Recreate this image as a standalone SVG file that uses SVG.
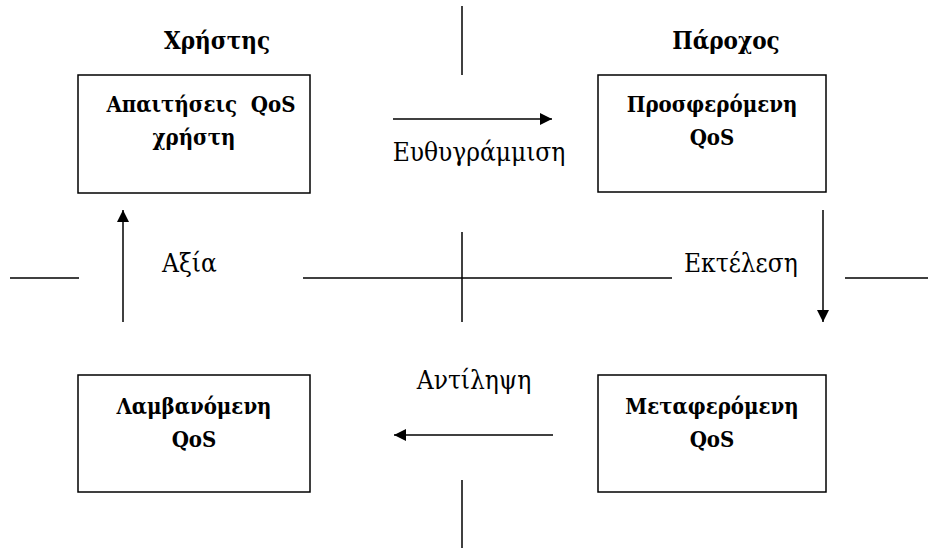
<svg xmlns="http://www.w3.org/2000/svg" width="928" height="550" viewBox="0 0 928 550">
  <style>
    .box { fill: #ffffff; stroke: #000000; stroke-width: 1.5; }
    .line { stroke: #000000; stroke-width: 1.5; fill: none; }
    .serif { font-family: "DejaVu Serif Condensed", "DejaVu Serif", "Liberation Serif", serif; fill: #000; }
    .title { font-weight: bold; font-size: 24px; text-anchor: middle; }
    .head { font-weight: bold; font-size: 22px; text-anchor: middle; }
    .lbl { font-size: 26px; }
  </style>
  <defs>
    <marker id="arrow" viewBox="0 0 10 10" refX="10" refY="5" markerWidth="12" markerHeight="12" markerUnits="userSpaceOnUse" orient="auto">
      <path d="M0,0 L10,5 L0,10 z" fill="#000"/>
    </marker>
  </defs>
  <rect width="928" height="550" fill="#ffffff"/>

  <!-- column headings -->
  <text class="serif title" x="217" y="49">Χρήστης</text>
  <text class="serif title" x="726" y="49">Πάροχος</text>

  <!-- quadrant dividers -->
  <g id="dividers">
    <line class="line" x1="462" y1="6" x2="462" y2="75"/>
    <line class="line" x1="462" y1="232" x2="462" y2="322"/>
    <line class="line" x1="462" y1="480" x2="462" y2="548"/>
    <line class="line" x1="10" y1="278" x2="79" y2="278"/>
    <line class="line" x1="303" y1="278" x2="672" y2="278"/>
    <line class="line" x1="845" y1="278" x2="928" y2="278"/>
  </g>

  <g id="node-required">
    <rect class="box" x="78" y="75" width="232" height="118"/>
    <text class="serif head" x="201" y="112">Απαιτήσεις&#160; QoS</text>
    <text class="serif head" x="194" y="145">χρήστη</text>
  </g>
  <g id="node-offered">
    <rect class="box" x="598" y="75" width="228" height="117"/>
    <text class="serif head" x="712" y="112">Προσφερόμενη</text>
    <text class="serif head" x="712" y="145">QoS</text>
  </g>
  <g id="node-perceived">
    <rect class="box" x="78" y="375" width="232" height="117"/>
    <text class="serif head" x="194" y="414">Λαμβανόμενη</text>
    <text class="serif head" x="194" y="447">QoS</text>
  </g>
  <g id="node-delivered">
    <rect class="box" x="598" y="375" width="228" height="117"/>
    <text class="serif head" x="712" y="414">Μεταφερόμενη</text>
    <text class="serif head" x="712" y="447">QoS</text>
  </g>

  <g id="connectors">
    <line class="line" x1="393" y1="119" x2="552" y2="119" marker-end="url(#arrow)"/>
    <line class="line" x1="823" y1="210" x2="823" y2="322" marker-end="url(#arrow)"/>
    <line class="line" x1="553" y1="435" x2="394" y2="435" marker-end="url(#arrow)"/>
    <line class="line" x1="123" y1="322" x2="123" y2="210" marker-end="url(#arrow)"/>
    <text class="serif lbl" x="479" y="161" text-anchor="middle">Ευθυγράμμιση</text>
    <text class="serif lbl" x="684" y="272">Εκτέλεση</text>
    <text class="serif lbl" x="474" y="389" text-anchor="middle">Αντίληψη</text>
    <text class="serif lbl" x="162" y="272">Αξία</text>
  </g>
</svg>
